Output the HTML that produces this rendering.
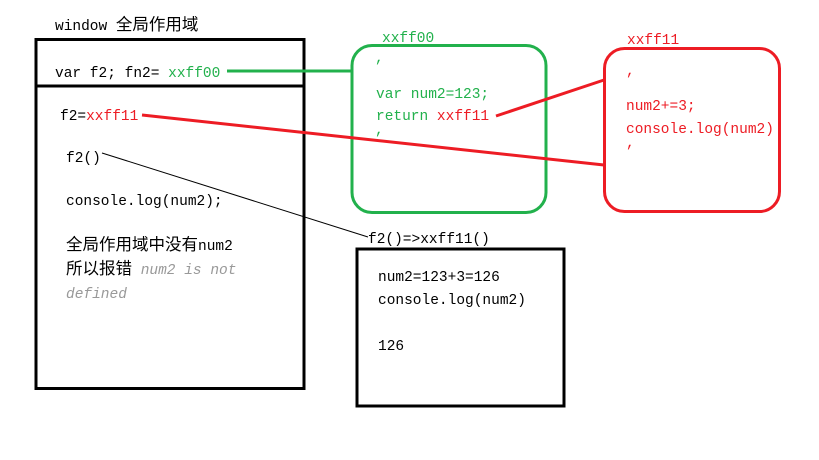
<!DOCTYPE html>
<html><head><meta charset="utf-8"><style>
html,body{margin:0;padding:0;background:#fff;width:819px;height:460px;overflow:hidden}
svg text{font-family:"Liberation Mono","Noto Sans CJK SC",monospace;font-size:14.5px}
svg .cj{font-family:"Noto Sans CJK SC",sans-serif;font-size:16.5px}
</style></head><body>
<svg width="819" height="460" xmlns="http://www.w3.org/2000/svg">
<text x="55" y="30" fill="#000">window <tspan class="cj">全局作用域</tspan></text>
<rect x="36" y="39.5" width="268" height="349" fill="none" stroke="#000" stroke-width="3"/>
<line x1="36" y1="86" x2="305" y2="86" stroke="#000" stroke-width="3"/>
<text x="55" y="77" fill="#000">var f2; fn2= <tspan fill="#22b14c">xxff00</tspan></text>
<line x1="227" y1="71" x2="353" y2="71" stroke="#22b14c" stroke-width="3"/>
<rect x="352" y="45.5" width="194" height="167" rx="20" fill="none" stroke="#22b14c" stroke-width="3"/>
<text x="382" y="42" fill="#22b14c">xxff00</text>
<text x="375" y="62" fill="#22b14c">,</text>
<text x="376" y="98" fill="#22b14c">var num2=123;</text>
<text x="376" y="120" fill="#22b14c">return <tspan fill="#ed1c24">xxff11</tspan></text>
<text x="375" y="134" fill="#22b14c">,</text>
<rect x="604.5" y="48.5" width="175" height="163" rx="20" fill="none" stroke="#ed1c24" stroke-width="3"/>
<text x="627" y="44" fill="#ed1c24">xxff11</text>
<text x="626" y="75" fill="#ed1c24">,</text>
<text x="626" y="110" fill="#ed1c24">num2+=3;</text>
<text x="626" y="133" fill="#ed1c24">console.log(num2)</text>
<text x="626" y="147" fill="#ed1c24">,</text>
<line x1="496" y1="116" x2="604" y2="80" stroke="#ed1c24" stroke-width="3"/>
<line x1="142" y1="115" x2="604" y2="165" stroke="#ed1c24" stroke-width="3"/>
<text x="60" y="120" fill="#000">f2=<tspan fill="#ed1c24">xxff11</tspan></text>
<text x="66" y="162" fill="#000">f2()</text>
<line x1="102" y1="153" x2="368" y2="237" stroke="#000" stroke-width="1"/>
<text x="66" y="205" fill="#000">console.log(num2);</text>
<text x="66" y="250" fill="#000"><tspan class="cj">全局作用域中没有</tspan>num2</text>
<text x="66" y="274" fill="#000"><tspan class="cj">所以报错</tspan> <tspan fill="#999" font-style="italic">num2 is not</tspan></text>
<text x="66" y="298" fill="#999" font-style="italic">defined</text>
<text x="368" y="243" fill="#000">f2()=&gt;xxff11()</text>
<rect x="357" y="249" width="207" height="157" fill="none" stroke="#000" stroke-width="3"/>
<text x="378" y="281" fill="#000">num2=123+3=126</text>
<text x="378" y="304" fill="#000">console.log(num2)</text>
<text x="378" y="350" fill="#000">126</text>
</svg>
</body></html>
